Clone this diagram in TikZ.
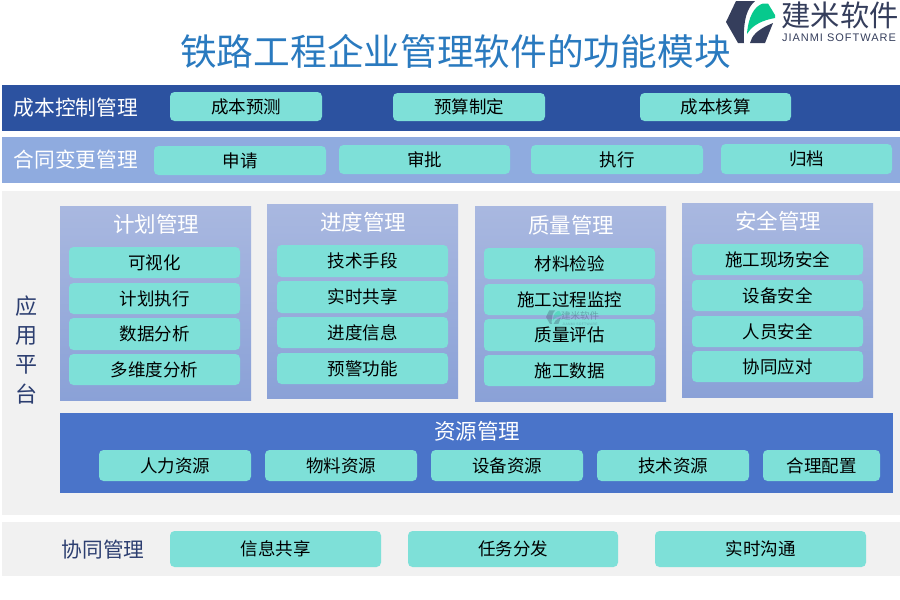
\documentclass[tikz,border=0pt]{standalone}
\usepackage{fontspec}
\setmainfont{Noto Sans CJK SC}
\newfontfamily\latinlogo[LetterSpace=9]{Liberation Sans}
\definecolor{barDark}{HTML}{2C52A0}
\definecolor{barLight}{HTML}{8FABDF}
\definecolor{panelGrey}{HTML}{F1F1F1}
\definecolor{teal}{HTML}{7EE0D8}
\definecolor{resBlue}{HTML}{4A74C9}
\definecolor{groupTop}{HTML}{A9B8E0}
\definecolor{groupBot}{HTML}{8AA1D7}
\definecolor{titleBlue}{HTML}{2A7ABF}
\definecolor{logoDark}{HTML}{353E5C}
\definecolor{logoGreen}{HTML}{07C98D}
\definecolor{labelNavy}{HTML}{2C3E70}
\tikzset{
  every node/.style={inner sep=0pt,outer sep=0pt,align=center},
  band/.style={fill=#1,draw=none},
  groupbox/.style={draw=none,top color=groupTop,bottom color=groupBot},
  item/.style={fill=teal,rounded corners=4.5pt,font=\fontsize{17.5}{18}\selectfont,text=black},
  barlabel/.style={font=\fontsize{20.7}{21}\selectfont,text=white},
  grouplabel/.style={font=\fontsize{21.5}{22}\selectfont,text=white},
  sidelabel/.style={font=\fontsize{22}{23}\selectfont,text=labelNavy},
}
% name, x1, y1, x2, y2, text
\newcommand{\itembox}[6]{\node[item,minimum width={(#4-#2)*1pt},minimum height={(#5-#3)*1pt}] (#1) at ({(#2+#4)/2},{(#3+#5)/2}) {#6};}
\newcommand{\areabox}[6]{\node[#6,minimum width={(#4-#2)*1pt},minimum height={(#5-#3)*1pt}] (#1) at ({(#2+#4)/2},{(#3+#5)/2}) {};}
\newcommand{\logomark}{%
  \fill[logoDark] (10,1) -- (29,1) .. controls (21,8) and (17,20) .. (18,43) -- (12,43) -- (0,22) -- cycle;
  \fill[logoGreen] (21,34) .. controls (22,18) and (28,6) .. (37,3.5) -- (42,3.5) -- (49,15) -- (49,18) .. controls (38,20) and (27,24) .. (21,34) -- cycle;
  \fill[logoDark] (24,43) .. controls (26,36) and (30,30) .. (47,23) -- (39,43) -- cycle;
}
\begin{document}
\begin{tikzpicture}[x=1pt,y=-1pt]
\useasboundingbox (0,0) rectangle (900,600);
% title and logo
\node[font=\fontsize{36.7}{38}\selectfont,text=titleBlue] (title) at (455.5,51) {铁路工程企业管理软件的功能模块};
\begin{scope}[shift={(726,0)}]\logomark\end{scope}
\node[font=\fontsize{29.3}{30}\selectfont,text=logoDark] (logotext) at (840,15) {建米软件};
\node[font=\latinlogo\fontsize{11}{12}\selectfont,text=logoDark] (logosub) at (839,38) {JIANMI SOFTWARE};
% bands
\areabox{bandA}{2}{85}{900}{131}{band=barDark}
\areabox{bandB}{2}{137}{900}{183}{band=barLight}
\areabox{bandC}{2}{191}{900}{515}{band=panelGrey}
\areabox{bandD}{2}{522}{900}{576}{band=panelGrey}
% row 1
\node[barlabel] (lblA) at (76,108) {成本控制管理};
\itembox{a1}{170}{92}{322}{121}{成本预测}
\itembox{a2}{393}{93}{545}{121}{预算制定}
\itembox{a3}{640}{93}{791}{121}{成本核算}
% row 2
\node[barlabel] (lblB) at (76,160) {合同变更管理};
\itembox{b1}{154}{146}{326}{175}{申请}
\itembox{b2}{339}{145}{510}{174}{审批}
\itembox{b3}{531}{145}{703}{174}{执行}
\itembox{b4}{721}{144}{892}{174}{归档}
% side label
\node[sidelabel] (s1) at (27,306) {应};
\node[sidelabel] (s2) at (27,336) {用};
\node[sidelabel] (s3) at (27,365) {平};
\node[sidelabel] (s4) at (27,394) {台};
% groups
\areabox{g1}{60}{206}{251}{400.5}{groupbox}
\areabox{g2}{267}{204}{458}{398.5}{groupbox}
\areabox{g3}{475}{206}{666}{401.5}{groupbox}
\areabox{g4}{682}{203}{873}{397.5}{groupbox}
\node[grouplabel] (g1t) at (156,224) {计划管理};
\node[grouplabel] (g2t) at (363,222) {进度管理};
\node[grouplabel] (g3t) at (571,225) {质量管理};
\node[grouplabel] (g4t) at (778,221) {安全管理};
\itembox{p1}{69}{247}{240}{278}{可视化}
\itembox{p2}{69}{283}{240}{314}{计划执行}
\itembox{p3}{69}{318}{240}{350}{数据分析}
\itembox{p4}{69}{354}{240}{385}{多维度分析}
\itembox{q1}{277}{245}{448}{277}{技术手段}
\itembox{q2}{277}{281}{448}{313}{实时共享}
\itembox{q3}{277}{317}{448}{348}{进度信息}
\itembox{q4}{277}{353}{448}{384}{预警功能}
\itembox{r1}{484}{248}{655}{279}{材料检验}
\itembox{r2}{484}{284}{655}{315}{施工过程监控}
\itembox{r3}{484}{319}{655}{351}{质量评估}
\itembox{r4}{484}{355}{655}{386}{施工数据}
\itembox{t1}{692}{244}{863}{275}{施工现场安全}
\itembox{t2}{692}{280}{863}{311}{设备安全}
\itembox{t3}{692}{316}{863}{347}{人员安全}
\itembox{t4}{692}{351}{863}{382}{协同应对}
% resources
\areabox{res}{60}{413}{893}{493}{band=resBlue}
\node[grouplabel] (rest) at (477,431) {资源管理};
\itembox{u1}{99}{450}{251}{481}{人力资源}
\itembox{u2}{265}{450}{417}{481}{物料资源}
\itembox{u3}{431}{450}{583}{481}{设备资源}
\itembox{u4}{597}{450}{749}{481}{技术资源}
\itembox{u5}{763}{450}{880}{481}{合理配置}
% bottom
\node[font=\fontsize{20.7}{21}\selectfont,text=labelNavy] (lblD) at (103,550) {协同管理};
\itembox{d1}{170}{531}{381}{567}{信息共享}
\itembox{d2}{408}{531}{618}{567}{任务分发}
\itembox{d3}{655}{531}{866}{567}{实时沟通}
% watermark
\begin{scope}[shift={(546,310)},scale=.32,opacity=.3]\logomark\end{scope}
\node[font=\fontsize{9.5}{10}\selectfont,text=logoDark,opacity=.35] (wm) at (580,316) {建米软件};
\node[font=\latinlogo\fontsize{3.4}{4}\selectfont,text=logoDark,opacity=.3] (wmsub) at (580,324) {JIANMI SOFTWARE};
\end{tikzpicture}
\end{document}
